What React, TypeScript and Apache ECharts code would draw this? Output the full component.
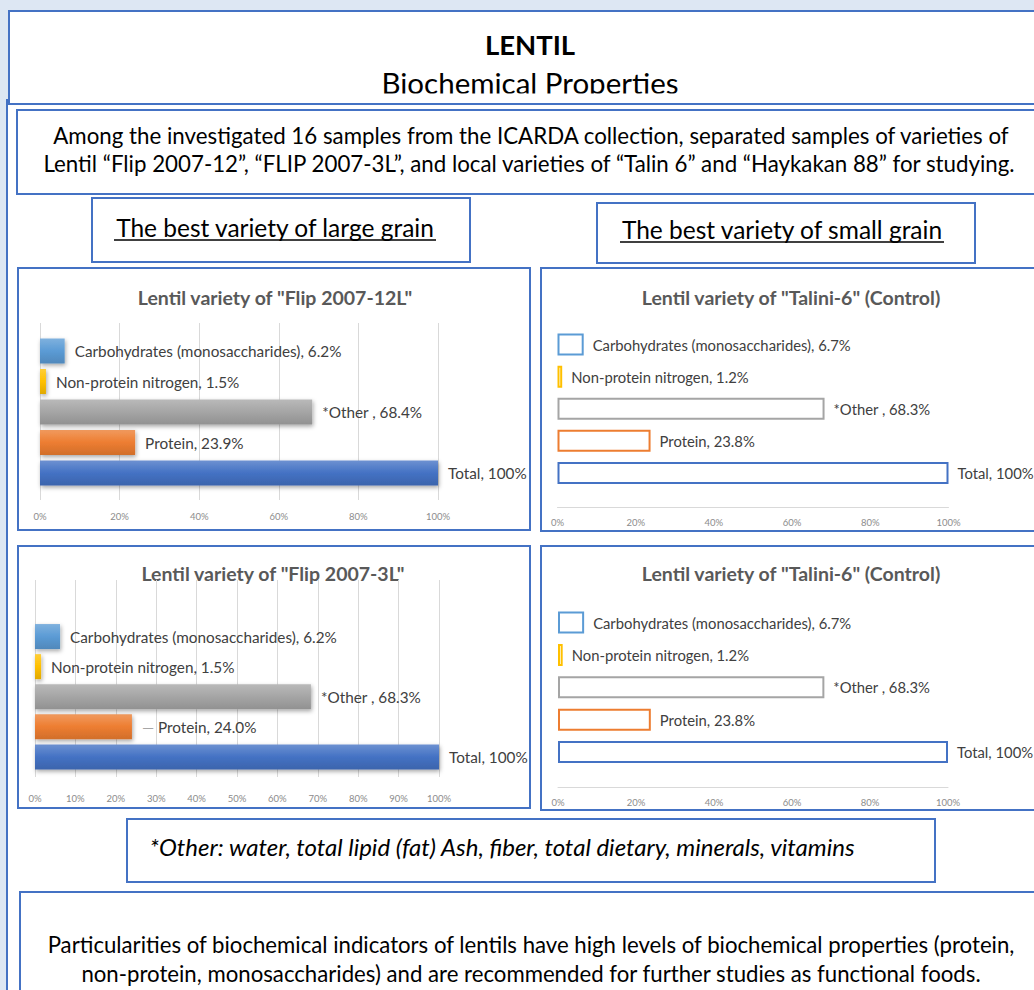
import React, { useEffect, useRef } from "react";
import * as echarts from "echarts";

// ---------- data ----------
const categories = [
  "Total",
  "Protein",
  "*Other ",
  "Non-protein nitrogen",
  "Carbohydrates (monosaccharides)",
];
const flip12Values = [100, 23.9, 68.4, 1.5, 6.2];
const talini6Values = [100, 23.8, 68.3, 1.2, 6.7];
const flip3Values = [100, 24.0, 68.3, 1.5, 6.2];
const talini6ControlValues = [100, 23.8, 68.3, 1.2, 6.7];
const chartTitles = [
  'Lentil variety of "Flip 2007-12L"',
  'Lentil variety of "Talini-6" (Control)',
  'Lentil variety of "Flip 2007-3L"',
  'Lentil variety of "Talini-6" (Control)',
];
const tickIntervals = [20, 20, 10, 20];
const axisMin = 0;
const axisMax = 100;

const headerTitle = "LENTIL";
const headerSubtitle = "Biochemical Properties";
const introLines = [
  "Among the investigated 16 samples from the ICARDA collection, separated samples of varieties of",
  "Lentil \u201cFlip 2007-12\u201d, \u201cFLIP 2007-3L\u201d, and local varieties of \u201cTalin 6\u201d and \u201cHaykakan 88\u201d for studying.",
];
const largeGrainHeading = "The best variety of large grain";
const smallGrainHeading = "The best variety of small grain";
const footnote =
  "*Other: water, total lipid (fat) Ash, fiber, total dietary, minerals, vitamins";
const conclusionLines = [
  "Particularities of biochemical indicators of lentils have high levels of biochemical properties (protein,",
  "non-protein, monosaccharides) and are recommended for further studies as functional foods.",
];

// ---------- styles ----------
const FONT = "Lato, 'Open Sans', sans-serif";
const BLUE = "#4472c4";
const barColors = ["#4472c4", "#ed7d31", "#a5a5a5", "#ffc000", "#5b9bd5"];

const panels = [
  {
    values: flip12Values, title: chartTitles[0], interval: tickIntervals[0], filled: true,
    titleX: 275, titleY: 297, leader: -1,
    frame: { left: 40, top: 323, width: 398, height: 177 },
    band: { top: 335.75, height: 152.5 }, barWidth: 25, labelMargin: 11, labelFont: 15.3, baseLine: false,
  },
  {
    values: talini6Values, title: chartTitles[1], interval: tickIntervals[1], filled: false,
    titleX: 791, titleY: 297, leader: -1,
    frame: { left: 557.5, top: 330, width: 391, height: 177 },
    band: { top: 328.5, height: 160.5 }, barWidth: 22, labelMargin: 10, labelFont: 14.8, baseLine: true,
  },
  {
    values: flip3Values, title: chartTitles[2], interval: tickIntervals[2], filled: true,
    titleX: 273, titleY: 573, leader: 1,
    frame: { left: 35, top: 580, width: 404, height: 197 },
    band: { top: 621.5, height: 150.5 }, barWidth: 25, labelMargin: 16, labelFont: 15.3, baseLine: false,
  },
  {
    values: talini6ControlValues, title: chartTitles[3], interval: tickIntervals[3], filled: false,
    titleX: 791, titleY: 573, leader: -1,
    frame: { left: 558, top: 610, width: 390, height: 177 },
    band: { top: 606.3, height: 162 }, barWidth: 22, labelMargin: 10, labelFont: 14.8, baseLine: true,
  },
];

function mix(hex: string, target: number, t: number) {
  const n = parseInt(hex.slice(1), 16);
  const r = (n >> 16) & 255, g = (n >> 8) & 255, b = n & 255;
  const f = (c: number) => Math.round(c + (target - c) * t);
  return `rgb(${f(r)},${f(g)},${f(b)})`;
}

function fmt(v: number) {
  return v === 100 ? "100%" : v.toFixed(1) + "%";
}

function box(x: number, y: number, w: number, h: number, z = 1) {
  return {
    type: "rect", z, shape: { x, y, width: w, height: h },
    style: { fill: "#ffffff", stroke: BLUE, lineWidth: 2 },
  };
}

function text(t: string, x: number, y: number, size: number, extra: any = {}, z = 2) {
  return {
    type: "text", x, y, z,
    style: {
      text: t, fill: "#000000", fontSize: size, fontFamily: FONT,
      align: "center", verticalAlign: "middle", ...extra,
    },
  };
}

function line(x1: number, y1: number, x2: number, y2: number, stroke: string, lw: number, z = 2) {
  return { type: "line", z, shape: { x1, y1, x2, y2 }, style: { stroke, lineWidth: lw } };
}

export default function App() {
  const ref = useRef<HTMLDivElement>(null);

  useEffect(() => {
    document.body.style.margin = "0";
    if (!ref.current) return;
    const chart = echarts.init(ref.current, undefined, { renderer: "svg" });

    const grids: any[] = [];
    const xAxes: any[] = [];
    const yAxes: any[] = [];
    const series: any[] = [];
    const graphics: any[] = [];

    // page boxes
    graphics.push(box(7, 100, 1100, 1000));
    graphics.push(box(9, 11, 1100, 93));
    graphics.push(text(headerTitle, 530, 44, 27.5, { fontWeight: "bold" }));
    graphics.push(text(headerSubtitle, 530, 82, 29.5));
    graphics.push({
      type: "rect", z: 3, shape: { x: 10, y: 93.5, width: 1030, height: 9.5 },
      style: { fill: "#ffffff" },
    });
    graphics.push(line(9, 104, 1040, 104, BLUE, 2, 4));
    graphics.push(box(17, 110, 1100, 84));
    graphics.push(text(introLines[0], 531, 135, 22.3));
    graphics.push(text(introLines[1], 529, 163, 22.3));
    graphics.push(box(92, 198, 378, 64));
    graphics.push(text(largeGrainHeading, 275, 227, 24.5));
    graphics.push(line(114, 240, 436, 240, "#000", 1.5));
    graphics.push(box(597, 203, 378, 60));
    graphics.push(text(smallGrainHeading, 782, 229, 24.5));
    graphics.push(line(620, 242, 944, 242, "#000", 1.5));
    graphics.push(box(18, 268, 512, 262));
    graphics.push(box(541, 268, 600, 263));
    graphics.push(box(18, 546, 512, 262));
    graphics.push(box(541, 546, 600, 264));
    graphics.push(box(127, 819, 808, 63));
    graphics.push(text(footnote, 502, 846, 24, { fontStyle: "italic" }));
    graphics.push(box(20, 892, 1100, 200));
    graphics.push(text(conclusionLines[0], 531, 944, 22.2));
    graphics.push(text(conclusionLines[1], 531, 973, 22.2));

    panels.forEach((p, i) => {
      graphics.push(
        text(p.title, p.titleX, p.titleY, 19.5, { fontWeight: "bold", fill: "#595959" })
      );
      const fg = grids.length;
      // frame grid (gridlines + tick labels)
      grids.push({ ...p.frame, containLabel: false, outerBoundsMode: "none" });
      xAxes.push({
        type: "value", gridIndex: fg, min: axisMin, max: axisMax, interval: p.interval, z: 5,
        axisLabel: {
          formatter: "{value}%", fontSize: 9.5, color: "#8c8c8c", fontFamily: FONT, margin: p.labelMargin,
        },
        axisLine: { show: p.baseLine, lineStyle: { color: "#d9d9d9", width: 1 } },
        axisTick: { show: false },
        splitLine: { show: !p.baseLine, lineStyle: { color: "#d9d9d9", width: 1 } },
      });
      yAxes.push({ type: "value", gridIndex: fg, show: false });

      // bar grid
      const bg = grids.length;
      grids.push({
        left: p.frame.left, width: p.frame.width, top: p.band.top, height: p.band.height,
        containLabel: false, outerBoundsMode: "none",
      });
      xAxes.push({ type: "value", gridIndex: bg, min: axisMin, max: axisMax, show: false });
      yAxes.push({
        type: "category", gridIndex: bg, data: categories, show: false,
      });
      series.push({
        type: "bar", xAxisIndex: bg, yAxisIndex: bg, z: 6,
        barWidth: p.barWidth,
        data: p.values.map((v, j) => {
          const c = barColors[j];
          const itemStyle = p.filled
            ? {
                color: new echarts.graphic.LinearGradient(0, 0, 0, 1, [
                  { offset: 0, color: mix(c, 255, 0.22) },
                  { offset: 0.5, color: c },
                  { offset: 1, color: mix(c, 0, 0.12) },
                ]),
                shadowColor: "rgba(0,0,0,0.35)", shadowBlur: 4, shadowOffsetX: 1, shadowOffsetY: 2,
              }
            : { color: "#ffffff", borderColor: c, borderWidth: 2 };
          return { value: v, itemStyle };
        }),
        label: {
          show: true, position: "right", distance: p.filled ? 10 : 9,
          color: "#404040", fontSize: p.labelFont, fontFamily: FONT,
          formatter: (q: any) =>
            q.dataIndex === p.leader
              ? `{ld|\u2014} ${q.name}, ${fmt(q.value)}`
              : `${q.name}, ${fmt(q.value)}`,
          rich: { ld: { color: "#a6a6a6", fontSize: p.labelFont, fontFamily: FONT } },
        },
      });
    });

    chart.setOption({
      animation: false,
      backgroundColor: "#dde7f3",
      grid: grids,
      xAxis: xAxes,
      yAxis: yAxes,
      series,
      graphic: { elements: graphics },
    });

    return () => chart.dispose();
  }, []);

  return (
    <div
      ref={ref}
      style={{ position: "absolute", left: 0, top: 0, width: 1034, height: 990 }}
    />
  );
}
